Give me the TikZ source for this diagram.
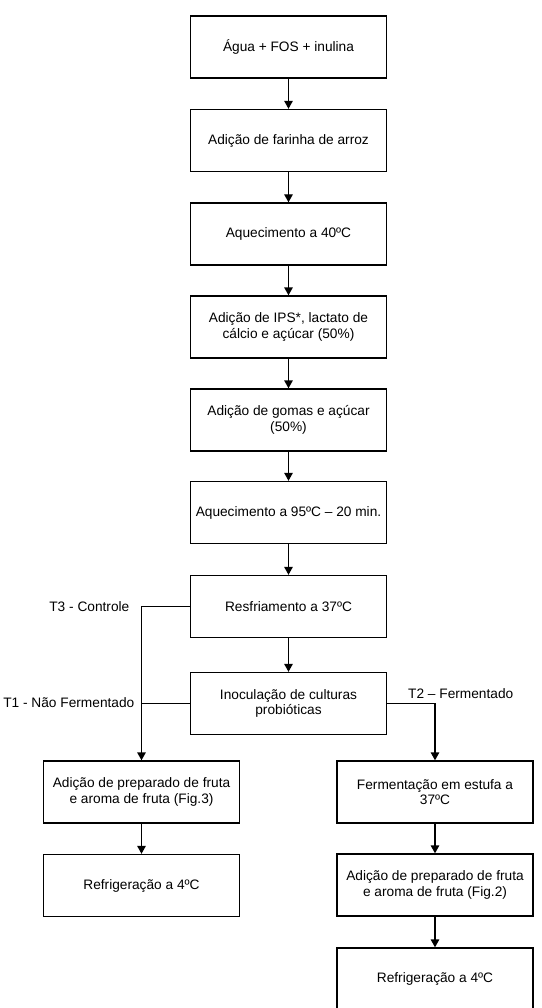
\documentclass[tikz,border=0pt]{standalone}
\usepackage{fontspec}
\setmainfont{Liberation Sans}
\usetikzlibrary{arrows.meta}
\begin{document}
\begin{tikzpicture}[x=1pt,y=-1pt,
  box/.style={draw, line width=1.35pt, minimum width=196pt, minimum height=62pt, inner sep=0pt, align=center, font=\fontsize{13.7}{15.5}\selectfont},
  arr/.style={line width=1.35pt, -{Triangle[width=8.5pt,length=8pt]}},
  conn/.style={line width=1.35pt},
  lbl/.style={font=\fontsize{13.7}{15.5}\selectfont, inner sep=0pt}]
\useasboundingbox (0,0) rectangle (541,1008);
\node[box] (n1) at (288.5,47) {Água + FOS + inulina};
\node[box] (n2) at (288.5,140.5) {Adição de farinha de arroz};
\node[box] (n3) at (288.5,234) {Aquecimento a 40ºC};
\node[box] (n4) at (288.5,327) {Adição de IPS*, lactato de\\cálcio e açúcar (50\%)};
\node[box] (n5) at (288.5,420) {Adição de gomas e açúcar\\(50\%)};
\node[box] (n6) at (288.5,512.5) {Aquecimento a 95ºC – 20 min.};
\node[box] (n7) at (288.5,606.5) {Resfriamento a 37ºC};
\node[box] (n8) at (288.5,703.5) {Inoculação de culturas\\probióticas};
\node[box] (l1) at (141.5,792) {Adição de preparado de fruta\\e aroma de fruta (Fig.3)};
\node[box] (l2) at (141.5,885.5) {Refrigeração a 4ºC};
\node[box] (r1) at (435,792) {Fermentação em estufa a\\37ºC};
\node[box] (r2) at (435,885) {Adição de preparado de fruta\\e aroma de fruta (Fig.2)};
\node[box] (r3) at (435,979) {Refrigeração a 4ºC};
\node[lbl, anchor=east] (t3) at (129.5,607) {T3 - Controle};
\node[lbl, anchor=east] (t1) at (134.5,703) {T1 - Não Fermentado};
\node[lbl, anchor=west] (t2) at (408,694) {T2 – Fermentado};
\draw[arr] (n1) -- (n2);
\draw[arr] (n2) -- (n3);
\draw[arr] (n3) -- (n4);
\draw[arr] (n4) -- (n5);
\draw[arr] (n5) -- (n6);
\draw[arr] (n6) -- (n7);
\draw[arr] (n7) -- (n8);
\draw[arr] (n7.west) -| (l1.north);
\draw[conn] (n8.west) -- (n8.west -| l1.north);
\draw[arr] (n8.east) -| (r1.north);
\draw[arr] (l1) -- (l2);
\draw[arr] (r1) -- (r2);
\draw[arr] (r2) -- (r3);
\end{tikzpicture}
\end{document}
